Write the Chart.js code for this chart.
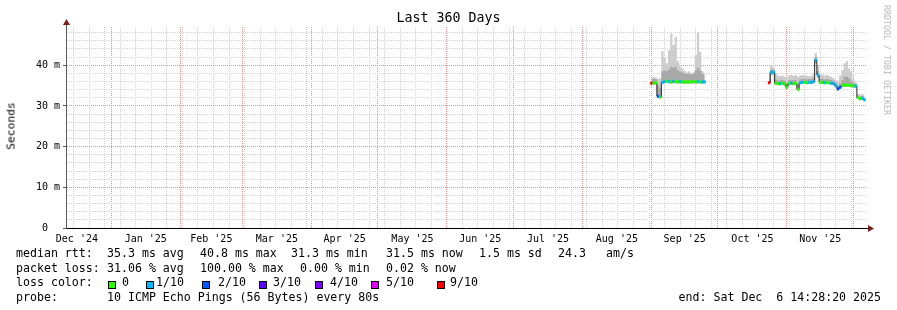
<!DOCTYPE html>
<html>
<head>
<meta charset="utf-8">
<script src="https://cdn.jsdelivr.net/npm/chart.js@4.4.1/dist/chart.umd.min.js"></script>
<style>
body{margin:0;background:#fff;}
#wrap{position:relative;width:897px;height:310px;font-family:"DejaVu Sans Mono",monospace;color:#000;overflow:hidden;}
#c{position:absolute;left:0;top:0;}
.t{position:absolute;white-space:pre;font-size:11.6px;line-height:14px;color:#000;}
.box{position:absolute;width:8px;height:8px;border:1px solid #000;box-sizing:border-box;}
#title{position:absolute;left:0;top:10px;width:897px;text-align:center;font-size:13.3px;line-height:16px;}
#ylab{position:absolute;left:11px;top:126px;transform:translate(-50%,-50%) rotate(-90deg);font-size:11.3px;white-space:pre;color:#000;}
#mark{position:absolute;left:887px;top:60px;transform:translate(-50%,-50%) rotate(90deg);font-size:8.3px;color:#b8b8b8;white-space:pre;}
</style>
</head>
<body>
<div id="wrap">
  <canvas id="c" width="897" height="310"></canvas>
  <div id="title">Last 360 Days</div>
  <div id="ylab">Seconds</div>
  <div id="mark">RRDTOOL / TOBI OETIKER</div>
  <div id="legend"></div>
</div>
<script>
// time axis: 360 days ending Sat Dec 6 14:28:20 2025
const endTime=Date.UTC(2025,11,6,14,28,20);
const spanDays=360;
const startTime=endTime-spanDays*864e5;
const dayOf=s=>(Date.parse(s+'T00:00:00Z')-startTime)/864e5;

const monthStarts=['2024-12-01','2025-01-01','2025-02-01','2025-03-01','2025-04-01','2025-05-01','2025-06-01',
  '2025-07-01','2025-08-01','2025-09-01','2025-10-01','2025-11-01','2025-12-01'];
const monthLabels=["Dec '24","Jan '25","Feb '25","Mar '25","Apr '25","May '25","Jun '25",
  "Jul '25","Aug '25","Sep '25","Oct '25","Nov '25"];
const firstSunday='2024-12-15';
const yTicks=[0,2,4,6,8,10,12,14,16,18,20,22,24,26,28,30,32,34,36,38,40,42,44,46,48];
const yMax=49.4;

// first block of data (Sep 2025)
const dates1=['2025-09-01','2025-09-02','2025-09-03','2025-09-04','2025-09-05','2025-09-06','2025-09-07','2025-09-08',
  '2025-09-09','2025-09-10','2025-09-11','2025-09-12','2025-09-13','2025-09-14','2025-09-15','2025-09-16','2025-09-17',
  '2025-09-18','2025-09-19','2025-09-20','2025-09-21','2025-09-22','2025-09-23','2025-09-24','2025-09-25'];
const median1=[35.6,35.6,35.7,32.4,32.2,35.8,36.0,36.1,36.0,35.9,36.1,36.0,35.9,36.0,35.9,35.9,35.9,35.9,35.9,36.0,35.9,36.0,35.9,35.9,35.9];
const loss1=[9,0,0,2,0,1,1,0,1,0,1,0,0,1,0,0,0,0,0,0,0,1,0,1,1];
const smokeMax1=[37.0,37.2,37.0,36.6,36.8,43.5,42.0,40.5,43.7,47.8,45.0,47.0,41.0,39.6,39.2,38.6,38.2,38.5,38.0,38.3,42.5,48.0,43.3,38.5,38.2];
const smokeUp1=[36.5,36.6,36.6,35.0,34.5,38.5,38.8,38.6,39.0,39.6,39.4,39.6,38.8,38.4,38.2,38.0,37.9,38.0,37.8,37.9,38.8,39.4,38.8,37.9,37.6];
const smokeMin1=[35.3,35.3,35.3,32.0,31.9,35.4,35.6,35.7,35.6,35.5,35.6,35.6,35.5,35.6,35.5,35.5,35.5,35.5,35.5,35.6,35.5,35.6,35.5,35.5,35.5];

// gap with no data
const gapDate='2025-10-10';

// second block of data (Oct 24 - Dec 6 2025)
const dates2=['2025-10-24','2025-10-25','2025-10-26','2025-10-27','2025-10-28','2025-10-29','2025-10-30','2025-10-31',
  '2025-11-01','2025-11-02','2025-11-03','2025-11-04','2025-11-05','2025-11-06','2025-11-07','2025-11-08','2025-11-09',
  '2025-11-10','2025-11-11','2025-11-12','2025-11-13','2025-11-14','2025-11-15','2025-11-16','2025-11-17','2025-11-18',
  '2025-11-19','2025-11-20','2025-11-21','2025-11-22','2025-11-23','2025-11-24','2025-11-25','2025-11-26','2025-11-27',
  '2025-11-28','2025-11-29','2025-11-30','2025-12-01','2025-12-02','2025-12-03','2025-12-04','2025-12-05','2025-12-06'];
const median2=[35.7,38.3,38.3,35.6,35.5,35.5,35.6,35.4,34.6,35.5,35.6,35.5,35.5,34.1,35.7,35.8,35.8,35.7,35.8,35.8,36.0,41.3,37.6,35.8,
  35.8,35.7,35.8,35.7,35.6,35.5,35.0,34.2,34.6,35.1,35.1,35.1,35.1,35.0,35.0,34.9,32.0,31.8,31.9,31.5];
const loss2=[9,1,1,0,0,1,0,0,0,0,1,0,0,0,1,1,0,0,1,1,1,1,1,0,0,1,0,0,1,1,1,2,2,0,0,0,0,0,0,1,0,0,1,1];
const smokeMax2=[38.4,40.0,39.5,38.0,37.5,37.3,37.5,37.2,37.0,37.5,37.6,37.4,37.6,37.2,37.5,37.6,37.4,37.5,37.3,37.4,38.0,43.0,40.0,37.6,
  37.8,37.5,37.6,37.4,37.2,36.8,36.4,36.2,37.5,38.8,40.5,41.0,39.2,38.5,36.5,35.8,33.0,32.8,33.0,32.6];
const smokeUp2=[36.6,39.0,38.9,36.5,36.3,36.3,36.4,36.2,35.6,36.3,36.4,36.3,36.3,35.2,36.5,36.6,36.6,36.5,36.6,36.6,36.9,42.0,38.5,36.6,
  36.7,36.5,36.6,36.5,36.4,36.2,35.7,35.0,35.5,36.4,37.2,37.2,36.8,36.0,35.6,35.4,32.5,32.3,32.4,32.0];
const smokeMin2=[35.3,37.6,37.7,35.2,35.1,35.1,35.2,35.0,34.2,35.1,35.2,35.1,35.1,33.8,35.3,35.4,35.4,35.3,35.4,35.4,35.6,40.5,36.9,35.4,
  35.4,35.3,35.4,35.3,35.2,35.1,34.6,33.8,34.2,34.7,34.7,34.7,34.7,34.6,34.6,34.5,31.7,31.4,31.5,31.2];

const lossColors={0:'#26ff00',1:'#00b8ff',2:'#0059ff',3:'#5e00ff',4:'#7e00ff',5:'#dd00ff',9:'#ff0000'};
const lossLegend=[['0',0],['1/10',1],['2/10',2],['3/10',3],['4/10',4],['5/10',5],['9/10',9]];

const gridGrey='#d2d2d2';
const gridRed='#ee8a8a';

function series(a1,a2){
  return [...dates1.map((d,i)=>({x:dayOf(d),y:a1[i]})),{x:dayOf(gapDate),y:null},...dates2.map((d,i)=>({x:dayOf(d),y:a2[i]}))];
}
const lossPts=[...loss1.map(l=>lossColors[l]),'transparent',...loss2.map(l=>lossColors[l])];

// x ticks: weekly grey grid, red month grid, month labels mid-month
const xTicks=[];
for(let w=dayOf(firstSunday);w<spanDays;w+=7) xTicks.push({v:w,label:'',color:gridGrey});
monthStarts.forEach(m=>{
  const v=dayOf(m);
  if(v<=0||v>=spanDays) return;
  const same=xTicks.find(t=>Math.abs(t.v-v)<0.01);
  if(same) same.color=gridRed; else xTicks.push({v,label:'',color:gridRed});
});
monthLabels.forEach((l,i)=>{
  const v=(dayOf(monthStarts[i])+dayOf(monthStarts[i+1]))/2;
  xTicks.push({v,label:l,color:'transparent'});
});
xTicks.sort((a,b)=>a.v-b.v);

const font={family:'DejaVu Sans Mono',size:10};

const arrows={
  id:'arrows',
  afterDraw(ch){
    const {ctx,chartArea:a}=ch;
    ctx.save();
    ctx.strokeStyle='#5a5a5a';ctx.lineWidth=1;
    ctx.beginPath();ctx.moveTo(a.left+0.5,a.top);ctx.lineTo(a.left+0.5,a.top-3);ctx.stroke();
    ctx.strokeStyle='#000';
    ctx.beginPath();ctx.moveTo(a.right,a.bottom+0.5);ctx.lineTo(a.right+3,a.bottom+0.5);ctx.stroke();
    ctx.fillStyle='#7a1c1c';
    ctx.beginPath();ctx.moveTo(a.left+0.5,a.top-8);ctx.lineTo(a.left+4,a.top-2);ctx.lineTo(a.left-3,a.top-2);ctx.closePath();ctx.fill();
    ctx.beginPath();ctx.moveTo(a.right+8,a.bottom+0.5);ctx.lineTo(a.right+2,a.bottom-3);ctx.lineTo(a.right+2,a.bottom+4);ctx.closePath();ctx.fill();
    ctx.restore();
  }
};

new Chart(document.getElementById('c'),{
  type:'line',
  data:{datasets:[
    {label:'loss',data:series(median1,median2),showLine:false,pointStyle:'line',pointRadius:1.15,pointHoverRadius:0,
      pointBorderWidth:3,pointBorderColor:lossPts,pointBackgroundColor:lossPts,order:0},
    {label:'median',data:series(median1,median2),borderColor:'#202020',borderWidth:1,stepped:'middle',pointRadius:0,order:1},
    {label:'smokeUp',data:series(smokeUp1,smokeUp2),borderColor:'transparent',borderWidth:0,stepped:'middle',pointRadius:0,
      fill:4,backgroundColor:'#a9a9a9',order:2},
    {label:'smokeMax',data:series(smokeMax1,smokeMax2),borderColor:'transparent',borderWidth:0,stepped:'middle',pointRadius:0,
      fill:4,backgroundColor:'#cdcdcd',order:3},
    {label:'smokeMin',data:series(smokeMin1,smokeMin2),borderColor:'transparent',borderWidth:0,stepped:'middle',pointRadius:0,
      fill:false,order:4}
  ]},
  options:{
    responsive:false,animation:false,
    layout:{padding:{left:0,right:31,top:27,bottom:62}},
    plugins:{legend:{display:false},tooltip:{enabled:false},title:{display:false}},
    scales:{
      x:{type:'linear',min:0,max:spanDays,
        afterBuildTicks:s=>{s.ticks=xTicks.map(t=>({value:t.v}));},
        afterFit:s=>{s.height=20;},
        ticks:{autoSkip:false,maxRotation:0,minRotation:0,padding:5,font,color:'#000',
          callback:(v,i)=>xTicks[i]?xTicks[i].label:''},
        grid:{drawTicks:false,lineWidth:1,color:c=>xTicks[c.index]?xTicks[c.index].color:'transparent'},
        border:{dash:[1,1],color:'#000',width:1}
      },
      y:{min:0,max:yMax,
        afterBuildTicks:s=>{s.ticks=yTicks.map(v=>({value:v}));},
        afterFit:s=>{s.width=66;},
        ticks:{autoSkip:false,padding:3,font,color:'#000',
          callback:v=>v%10?'':(v?v+' m':'0  ')},
        grid:{lineWidth:1,tickLength:3,color:c=>c.tick.value%10?gridGrey:gridRed,
          tickColor:c=>c.tick.value%10?'transparent':'#5a5a5a'},
        border:{dash:[1,1],color:'#5a5a5a',width:1}
      }
    }
  },
  plugins:[arrows]
});

// legend text under the graph
const legendLines=[
  {top:246,items:[[16,'median rtt:'],[107,'35.3 ms avg'],[200,'40.8 ms max'],[291,'31.3 ms min'],[386,'31.5 ms now'],[479,'1.5 ms sd'],[558,'24.3'],[606,'am/s']]},
  {top:260.5,items:[[16,'packet loss:'],[107,'31.06 % avg'],[200,'100.00 % max'],[300,'0.00 % min'],[386,'0.02 % now']]},
  {top:275,items:[[16,'loss color:']]},
  {top:289.5,items:[[16,'probe:'],[107,'10 ICMP Echo Pings (56 Bytes) every 80s']]}
];
const boxX=[108,146,202,259,315,371,437];
const boxTextX=[122,156,218,273,330,386,450];
const lg=document.getElementById('legend');
function addText(x,top,txt){const s=document.createElement('span');s.className='t';s.style.left=x+'px';s.style.top=top+'px';s.textContent=txt;lg.appendChild(s);return s;}
legendLines.forEach(l=>l.items.forEach(([x,t])=>addText(x,l.top,t)));
lossLegend.forEach(([t,l],i)=>{
  const b=document.createElement('span');b.className='box';b.style.left=boxX[i]+'px';b.style.top='281px';b.style.background=lossColors[l];lg.appendChild(b);
  addText(boxTextX[i],275,t);
});
const endTxt=addText(0,289.5,'end: Sat Dec  6 14:28:20 2025');
endTxt.style.left='auto';endTxt.style.right='16px';
</script>
</body>
</html>
